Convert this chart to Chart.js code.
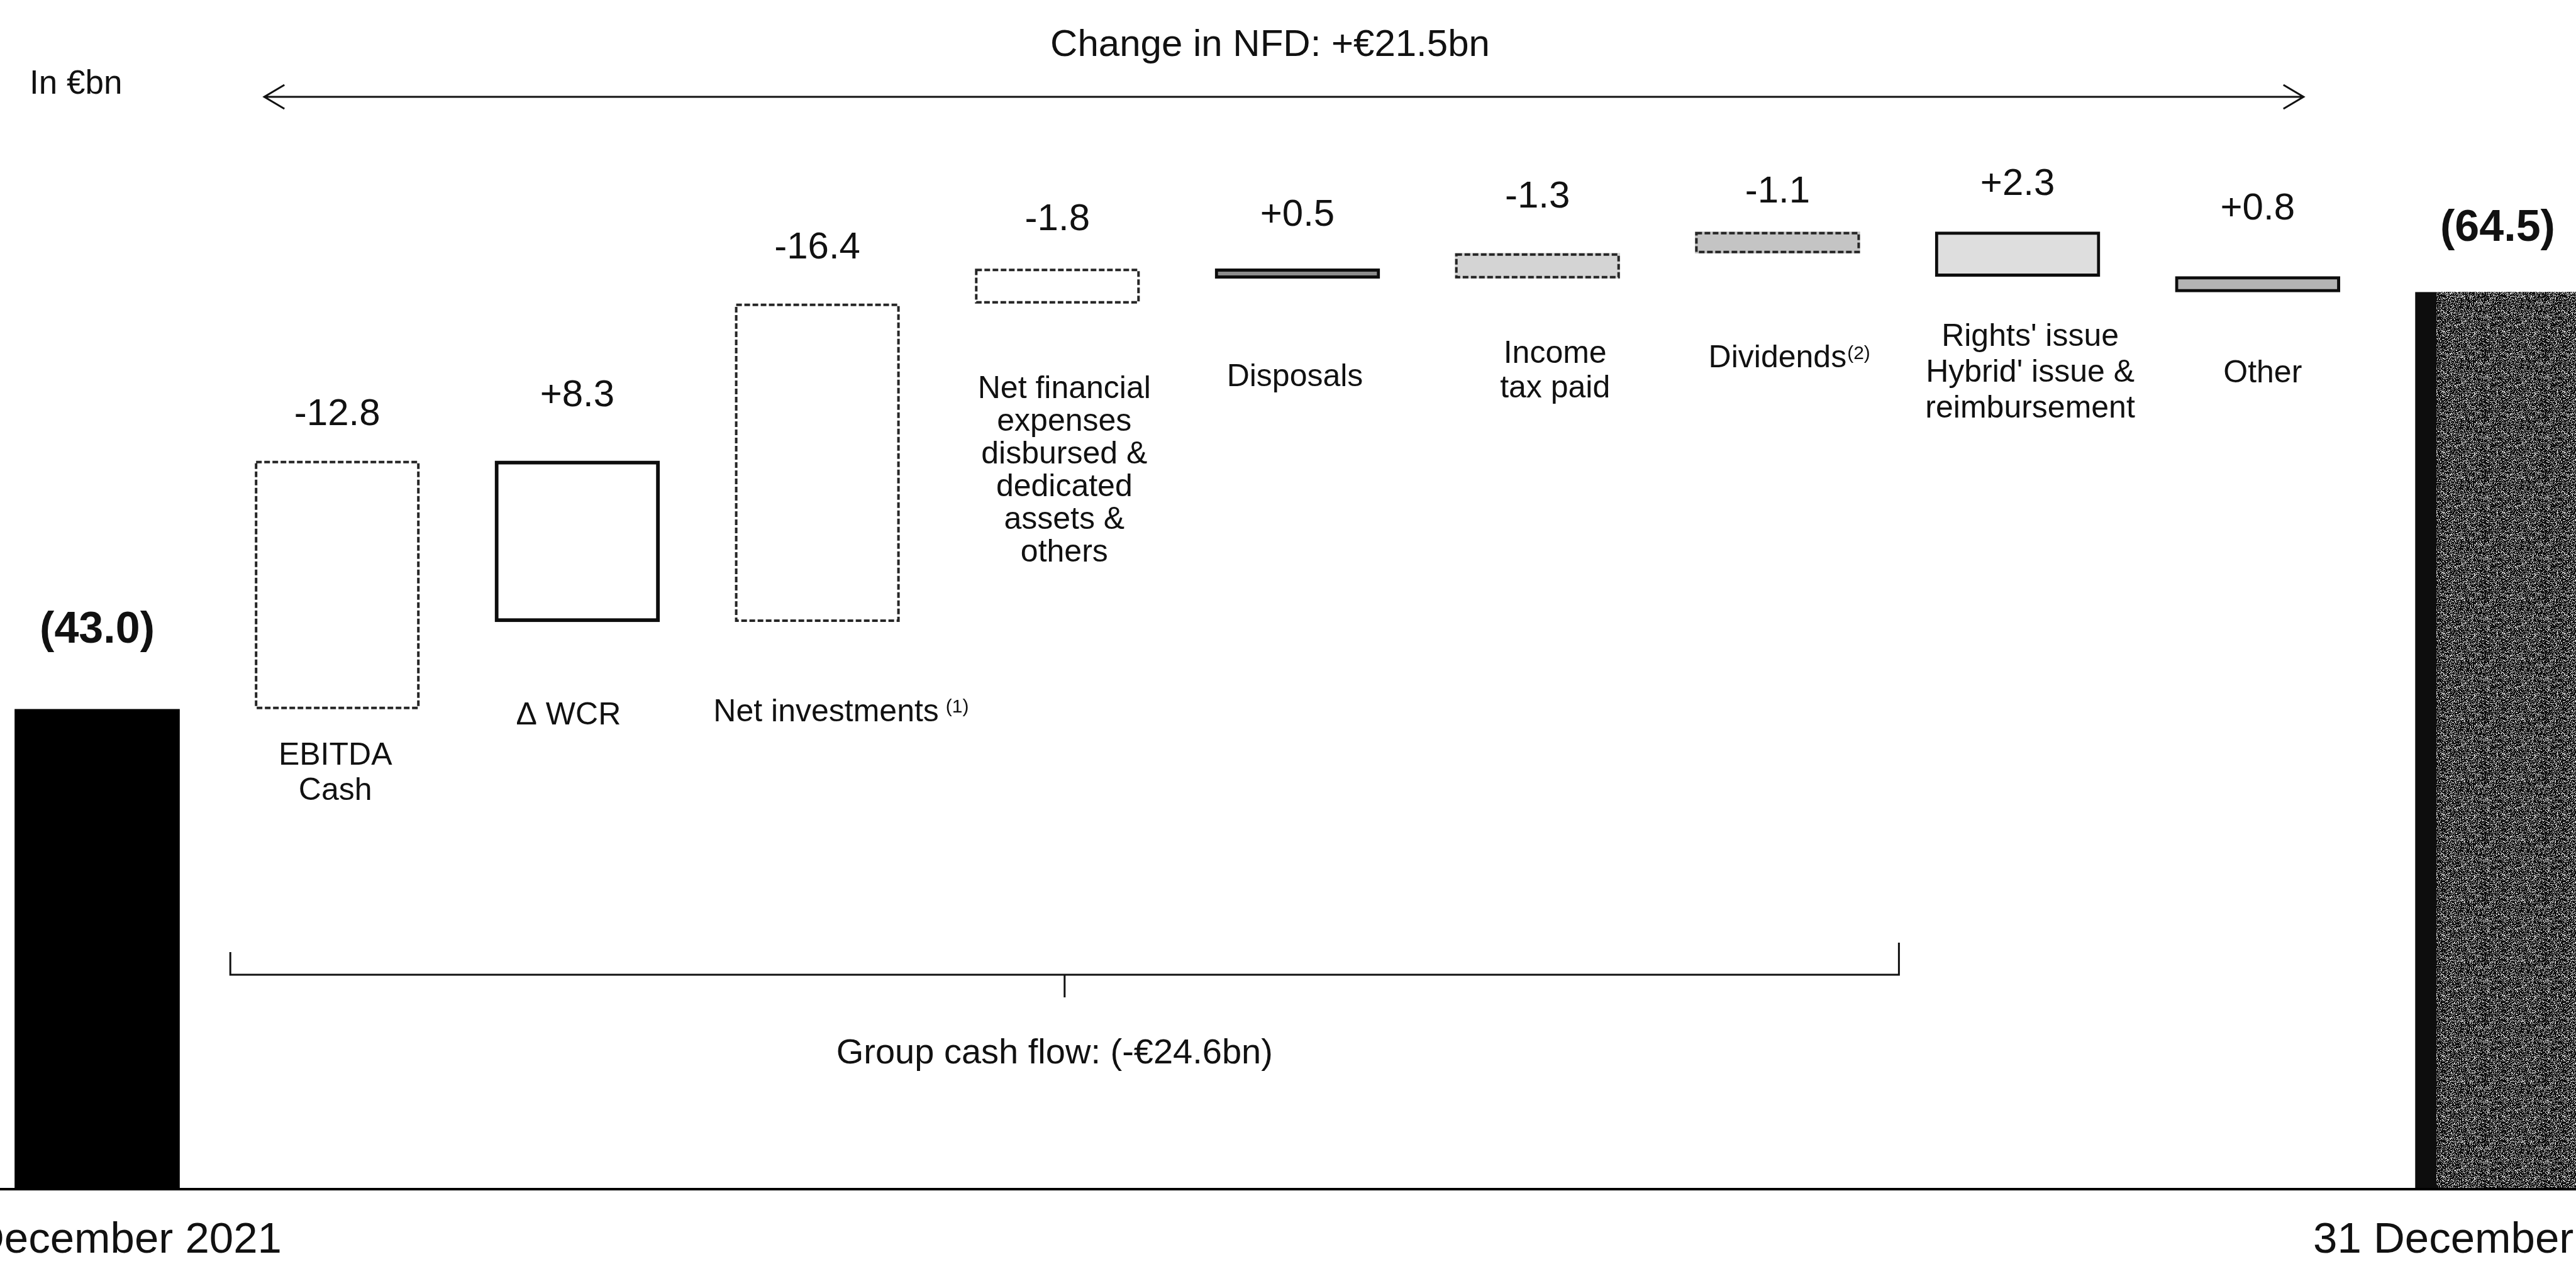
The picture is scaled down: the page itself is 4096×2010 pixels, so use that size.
<!DOCTYPE html>
<html lang="en">
<head>
<meta charset="utf-8">
<title>Change in NFD</title>
<script src="https://cdn.jsdelivr.net/npm/chart.js"></script>
<style>
    html, body { margin: 0; padding: 0; background: #ffffff; overflow: hidden; }
    canvas { display: block; }
</style>
</head>
<body>
<canvas id="nfdChart" width="4096" height="2010"></canvas>
<script>
// Datos en miles de millones de euros
const categories = [
    ['31 December 2021'],
    ['EBITDA', 'Cash'],
    ['Δ WCR'],
    ['Net investments'],
    ['Net financial', 'expenses', 'disbursed &', 'dedicated', 'assets &', 'others'],
    ['Disposals'],
    ['Income', 'tax paid'],
    ['Dividends'],
    ["Rights' issue", "Hybrid' issue &", 'reimbursement'],
    ['Other'],
    ['31 December 2022']
];
const footnotes = ['', '', '', '(1)', '', '', '', '(2)', '', '', ''];
const openingNfd = 43.0;
const closingNfd = 64.5;
const movements = [-12.8, 8.3, -16.4, -1.8, 0.5, -1.3, -1.1, 2.3, 0.8];
const nfdChange = 21.5;
const groupCashFlow = -24.6;

// Estilo y colocación de textos (px)
const FONT = '"Liberation Sans", Arial, sans-serif';
const dottedOutline = [false, true, false, true, true, false, true, true, false, false, false];
const valueLift = [125, 73, 103, 88, 78, 85, 89, 63, 75, 107, 101];
const labelDrop = [83, 74, 149, 144, 136, 157, 120, 168, 97, 130, 83];
const labelShift = [0, -3, -14, 14, 11, -4, 28, 0, 20, 8, 0];
const lineStep = [0, 56, 0, 0, 52, 0, 55, 0, 57, 0, 0];
const footnoteGap = [0, 0, 0, 11, 0, 0, 0, 1, 0, 0, 0];

// Textura granulada para la barra de cierre
function grainPattern(ctx) {
    const size = 96;
    const c = document.createElement('canvas');
    c.width = size;
    c.height = size;
    const g = c.getContext('2d');
    const img = g.createImageData(size, size);
    for (let y = 0; y < size; y++) {
        for (let x = 0; x < size; x++) {
            let h = Math.imul(x + 1, 374761393) ^ Math.imul(y + 7, 668265263);
            h = Math.imul(h ^ (h >>> 13), 1274126177);
            h = (h ^ (h >>> 16)) >>> 0;
            const v = (h & 1023) < 730 ? 12 : 220;
            const k = (y * size + x) * 4;
            img.data[k] = img.data[k + 1] = img.data[k + 2] = v;
            img.data[k + 3] = 255;
        }
    }
    g.putImageData(img, 0, 0);
    return ctx.createPattern(c, 'repeat');
}

// Barras flotantes: apertura, movimientos y cierre
function bridgePoints() {
    const pts = [{ x: 0, y: openingNfd }];
    let level = openingNfd;
    movements.forEach((m, i) => {
        const next = level - m;
        pts.push({ x: i + 1, y: [level, next] });
        level = next;
    });
    pts.push({ x: movements.length + 1, y: closingNfd });
    return pts;
}

function valueText(i) {
    if (i === 0) return '(' + openingNfd.toFixed(1) + ')';
    if (i === movements.length + 1) return '(' + closingNfd.toFixed(1) + ')';
    const v = movements[i - 1];
    return (v > 0 ? '+' : '') + v.toFixed(1);
}

const bridgeDecor = {
    id: 'bridgeDecor',
    afterDatasetsDraw(chart) {
        const ctx = chart.ctx;
        const bars = chart.getDatasetMeta(0).data;
        const area = chart.chartArea;
        ctx.save();

        // contornos punteados de las salidas
        ctx.strokeStyle = '#262626';
        ctx.lineWidth = 4;
        ctx.setLineDash([9, 4]);
        bars.forEach((bar, i) => {
            if (!dottedOutline[i]) return;
            const top = Math.min(bar.y, bar.base);
            const h = Math.abs(bar.base - bar.y);
            ctx.strokeRect(bar.x - bar.width / 2 + 2, top + 2, bar.width - 4, h - 4);
        });
        ctx.setLineDash([]);

        // línea base
        ctx.fillStyle = '#000';
        ctx.fillRect(0, area.bottom - 1, chart.width, 4);

        // valores y nombres de cada barra
        ctx.fillStyle = '#111';
        ctx.textBaseline = 'middle';
        ctx.textAlign = 'center';
        bars.forEach((bar, i) => {
            const top = Math.min(bar.y, bar.base);
            const bottom = Math.min(Math.max(bar.y, bar.base), area.bottom);
            const isEnd = i === 0 || i === bars.length - 1;
            ctx.font = (isEnd ? 'bold 70px ' : '60px ') + FONT;
            ctx.fillText(valueText(i), bar.x, top - valueLift[i]);

            ctx.font = (isEnd ? '69px ' : '50px ') + FONT;
            const cx = bar.x + labelShift[i];
            const lines = categories[i];
            lines.forEach((line, j) => {
                const ly = bottom + labelDrop[i] + j * lineStep[i];
                ctx.fillText(line, cx, ly);
                if (footnotes[i] && j === lines.length - 1) {
                    const w = ctx.measureText(line).width;
                    ctx.save();
                    ctx.font = '30px ' + FONT;
                    ctx.textAlign = 'left';
                    ctx.fillText(footnotes[i], cx + w / 2 + footnoteGap[i], ly - 8);
                    ctx.restore();
                }
            });
        });

        // flecha de variación de la deuda neta
        const arrowL = bars[1].x - bars[1].width / 2 + 15;
        const arrowR = bars[9].x + 73;
        const arrowY = 154;
        ctx.strokeStyle = '#111';
        ctx.lineWidth = 3;
        ctx.beginPath();
        ctx.moveTo(arrowL, arrowY);
        ctx.lineTo(arrowR, arrowY);
        ctx.moveTo(arrowL + 32, arrowY - 19);
        ctx.lineTo(arrowL, arrowY);
        ctx.lineTo(arrowL + 32, arrowY + 19);
        ctx.moveTo(arrowR - 32, arrowY - 19);
        ctx.lineTo(arrowR, arrowY);
        ctx.lineTo(arrowR - 32, arrowY + 19);
        ctx.stroke();

        ctx.font = '60px ' + FONT;
        ctx.fillText('Change in NFD: +€' + nfdChange.toFixed(1) + 'bn', (arrowL + arrowR) / 2 - 22, 72);

        ctx.textAlign = 'left';
        ctx.font = '53px ' + FONT;
        ctx.fillText('In €bn', 47, 134);

        // llave del flujo de caja del grupo
        const bL = bars[1].x - 170;
        const bR = bars[7].x + bars[7].width / 2 + 62;
        const bY = 1550;
        const mid = (bL + bR) / 2;
        ctx.beginPath();
        ctx.moveTo(bL, bY - 36);
        ctx.lineTo(bL, bY);
        ctx.lineTo(bR, bY);
        ctx.lineTo(bR, bY - 51);
        ctx.moveTo(mid, bY);
        ctx.lineTo(mid, bY + 36);
        ctx.stroke();

        ctx.textAlign = 'center';
        ctx.font = '56px ' + FONT;
        ctx.fillText('Group cash flow: (-€' + Math.abs(groupCashFlow).toFixed(1) + 'bn)', mid - 16, 1676);

        ctx.restore();
    }
};

function renderBridgeChart() {
    const ctx = document.getElementById('nfdChart').getContext('2d');
    const grain = grainPattern(ctx);
    new Chart(ctx, {
        type: 'bar',
        data: {
            datasets: [{
                data: bridgePoints(),
                backgroundColor: ['#000000', '#ffffff', '#ffffff', '#ffffff', '#ffffff', '#8c8c8c',
                    '#d4d4d4', '#c4c4c4', '#dedede', '#b4b4b4', grain],
                borderColor: '#0d0d0d',
                borderWidth: [0, 0, 6, 0, 0, 5, 0, 0, 5, 5, { left: 34, top: 0, right: 0, bottom: 0 }],
                borderSkipped: false,
                barThickness: 262
            }]
        },
        options: {
            responsive: false,
            animation: false,
            devicePixelRatio: 1,
            layout: { padding: { top: 290, bottom: 120, left: 0, right: 0 } },
            plugins: {
                legend: { display: false },
                tooltip: { enabled: false }
            },
            scales: {
                x: { type: 'linear', display: false, offset: false, min: -0.4048, max: 10.3262 },
                y: { display: false, min: 18.3, max: 70.15 }
            }
        },
        plugins: [bridgeDecor]
    });
}

renderBridgeChart();
</script>
</body>
</html>
